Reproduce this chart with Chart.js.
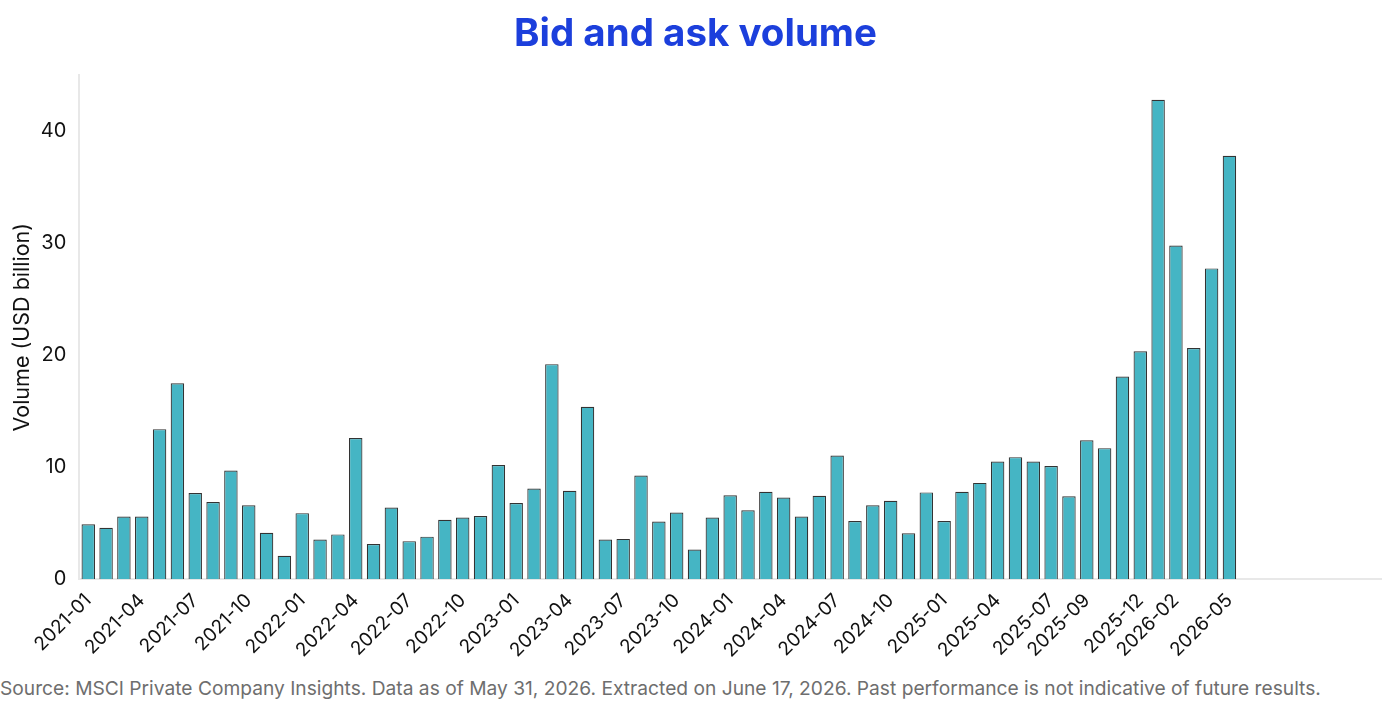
<!DOCTYPE html>
<html>
<head>
<meta charset="utf-8">
<title>Bid and ask volume</title>
<script src="https://cdn.jsdelivr.net/npm/chart.js@4/dist/chart.umd.min.js"></script>
<style>
    html, body { margin: 0; padding: 0; background: #fff; }
    #wrap { width: 1400px; height: 710px; position: relative; }
    #chartBox { width: 1400px; height: 670px; position: relative; }
    #source {
        position: absolute; left: 0px; top: 676px;
        font-family: Inter, "Noto Sans", sans-serif; font-size: 19.2px; color: #6e6e6e;
        white-space: nowrap;
    }
</style>
</head>
<body>
<div id="wrap">
    <div id="chartBox"><canvas id="volumeChart"></canvas></div>
    <div id="source">Source: MSCI Private Company Insights. Data as of May 31, 2026. Extracted on June 17, 2026. Past performance is not indicative of future results.</div>
</div>
<script>
// Months on the x axis (the axis runs on past the last data month)
const months = [
    "2021-01", "2021-02", "2021-03", "2021-04", "2021-05", "2021-06", "2021-07", "2021-08", "2021-09", "2021-10", "2021-11", "2021-12",
    "2022-01", "2022-02", "2022-03", "2022-04", "2022-05", "2022-06", "2022-07", "2022-08", "2022-09", "2022-10", "2022-11", "2022-12",
    "2023-01", "2023-02", "2023-03", "2023-04", "2023-05", "2023-06", "2023-07", "2023-08", "2023-09", "2023-10", "2023-11", "2023-12",
    "2024-01", "2024-02", "2024-03", "2024-04", "2024-05", "2024-06", "2024-07", "2024-08", "2024-09", "2024-10", "2024-11", "2024-12",
    "2025-01", "2025-02", "2025-03", "2025-04", "2025-05", "2025-06", "2025-07", "2025-08", "2025-09", "2025-10", "2025-11", "2025-12",
    "2026-01", "2026-02", "2026-03", "2026-04", "2026-05", "2026-06", "2026-07", "2026-08", "2026-09", "2026-10", "2026-11", "2026-12",
    "2027-01"
];

// Bid and ask volume, USD billion
const volume = [
    4.9, 4.6, 5.6, 5.6, 13.4, 17.5, 7.7, 6.9, 9.7, 6.6, 4.15, 2.1,
    5.9, 3.55, 4.0, 12.6, 3.15, 6.4, 3.4, 3.8, 5.3, 5.5,
    5.65, 10.2, 6.8, 8.1, 19.2, 7.9, 15.4, 3.55, 3.6, 9.25, 5.15, 5.95,
    2.65, 5.5, 7.5, 6.15, 7.8, 7.3, 5.6, 7.45, 11.05, 5.2, 6.6, 7.0,
    4.1, 7.75, 5.2, 7.8, 8.6, 10.5, 10.9, 10.5, 10.1, 7.4, 12.4, 11.7,
    18.1, 20.35, 42.8, 29.8, 20.65, 27.75, 37.8
];

// Month labels that are shown under the axis
const tickLabels = [
    "2021-01", "2021-04", "2021-07", "2021-10", "2022-01", "2022-04", "2022-07", "2022-10",
    "2023-01", "2023-04", "2023-07", "2023-10", "2024-01", "2024-04", "2024-07", "2024-10",
    "2025-01", "2025-04", "2025-07", "2025-09", "2025-12", "2026-02", "2026-05"
];

const yTicks = [0, 10, 20, 30, 40];

const fontFamily = "Inter, 'Noto Sans', sans-serif";
const axisLineColor = '#e8e8e8';

const ctx = document.getElementById("volumeChart").getContext("2d");

new Chart(ctx, {
    type: 'bar',
    data: {
        labels: months,
        datasets: [{
            label: 'Volume',
            data: volume,
            backgroundColor: '#45b5c4',
            borderColor: '#333333',
            borderWidth: 1.2,
            barPercentage: 0.92,
            categoryPercentage: 0.82
        }]
    },
    options: {
        responsive: true,
        maintainAspectRatio: false,
        animation: false,
        layout: {
            padding: { top: 0, right: 19, bottom: 6, left: 10 }
        },
        plugins: {
            legend: { display: false },
            tooltip: { enabled: false },
            title: {
                display: true,
                text: 'Bid and ask volume',
                color: '#1c3fdc',
                font: { family: fontFamily, size: 38.5, weight: 'bold' },
                padding: { top: 11, bottom: 18 }
            }
        },
        scales: {
            x: {
                grid: { display: false },
                border: { display: true, color: axisLineColor, width: 2 },
                ticks: {
                    autoSkip: false,
                    maxRotation: 45,
                    minRotation: 45,
                    color: '#111',
                    padding: 2,
                    font: { family: fontFamily, size: 19 },
                    callback: function (value) {
                        const label = this.getLabelForValue(value);
                        return tickLabels.includes(label) ? label : '';
                    }
                }
            },
            y: {
                min: 0,
                max: 45,
                grid: { display: false },
                border: { display: true, color: axisLineColor, width: 2 },
                title: {
                    display: true,
                    text: 'Volume (USD billion)',
                    color: '#111',
                    font: { family: fontFamily, size: 21.5 },
                    padding: { top: 0, bottom: 0 }
                },
                afterBuildTicks: function (axis) {
                    axis.ticks = yTicks.map(v => ({ value: v }));
                },
                ticks: {
                    color: '#111',
                    padding: 5,
                    font: { family: fontFamily, size: 20 }
                }
            }
        }
    }
});
</script>
</body>
</html>
